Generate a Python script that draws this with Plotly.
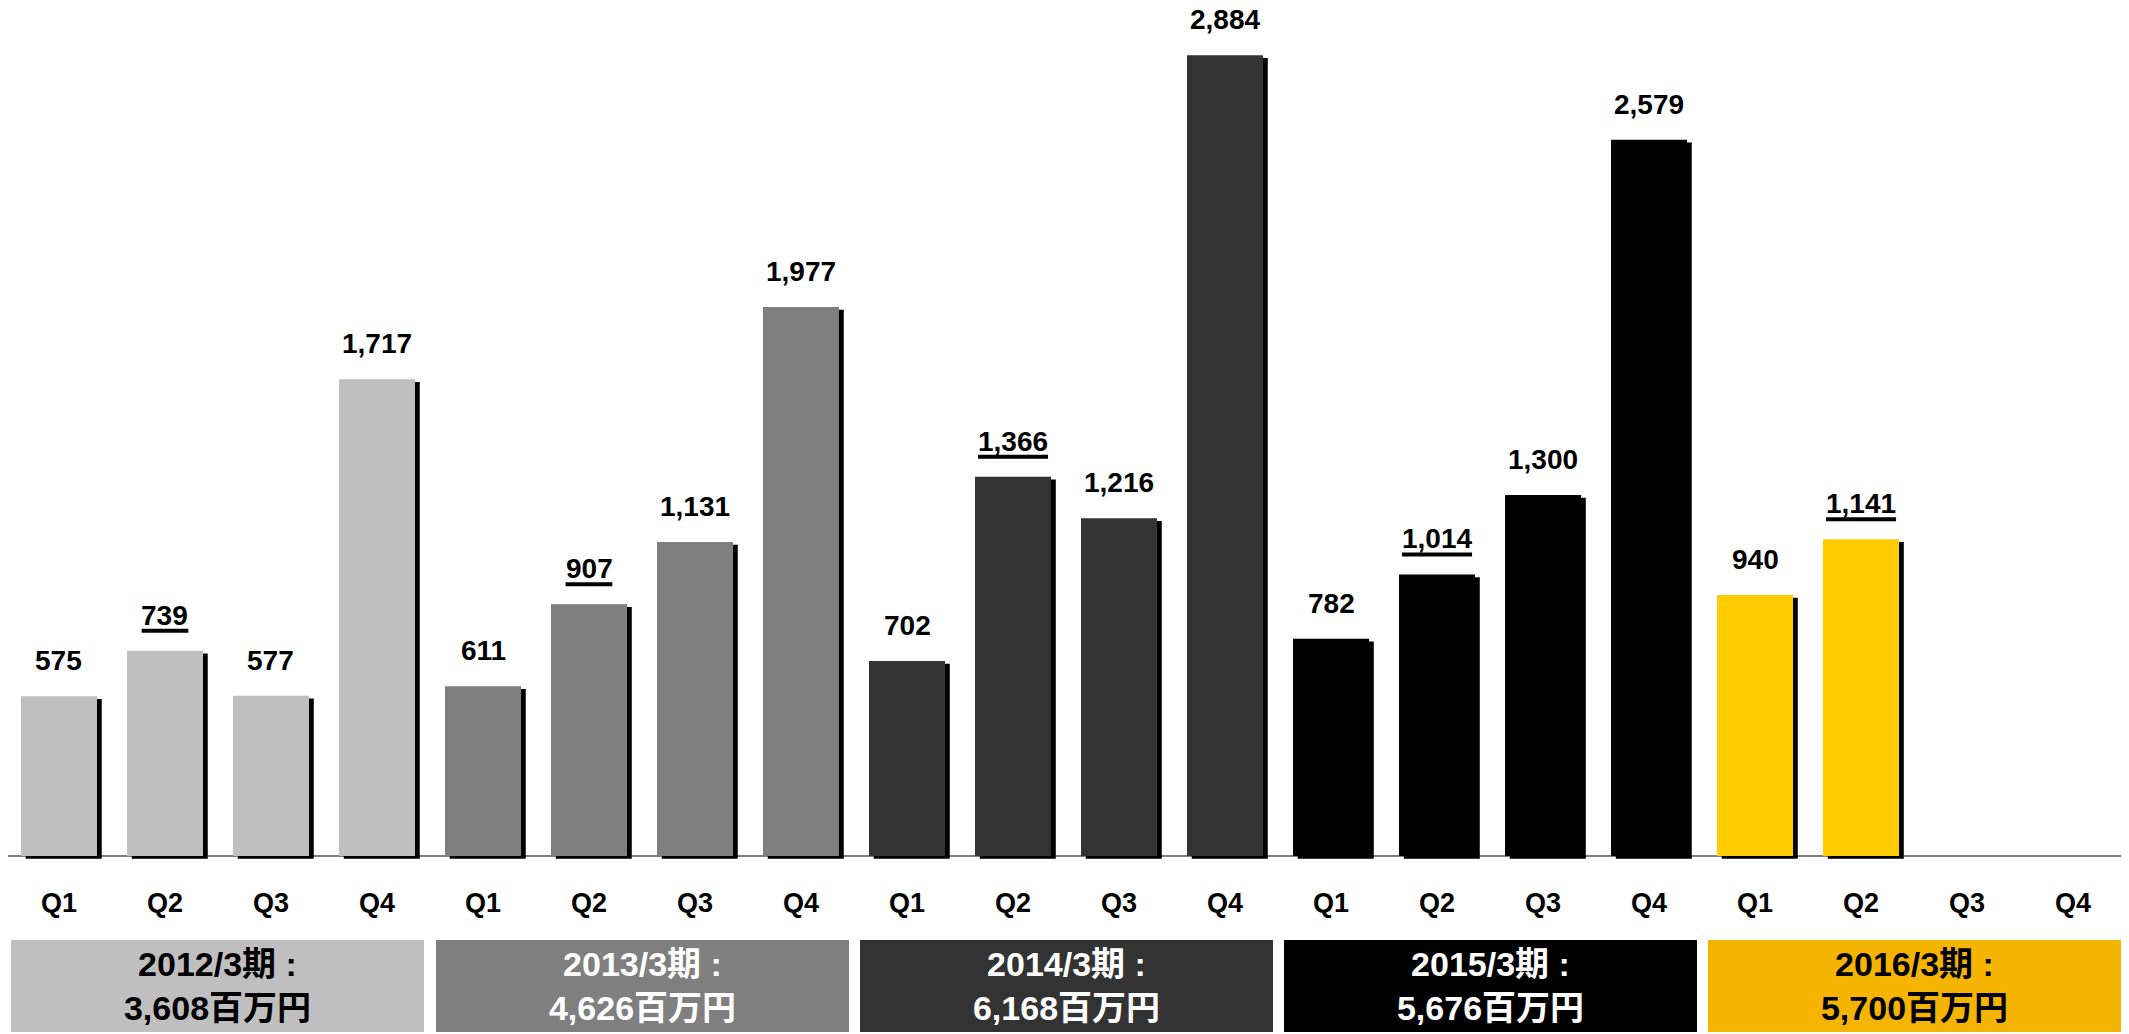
import plotly.graph_objects as go

# ---- data ----
quarters = ["Q1", "Q2", "Q3", "Q4"]
fiscal_years = ["2012/3期", "2013/3期", "2014/3期", "2015/3期", "2016/3期"]
annual_totals = ["3,608", "4,626", "6,168", "5,676", "5,700"]
fy2012 = [575, 739, 577, 1717]
fy2013 = [611, 907, 1131, 1977]
fy2014 = [702, 1366, 1216, 2884]
fy2015 = [782, 1014, 1300, 2579]
fy2016 = [940, 1141, None, None]
underlined_quarter = "Q2"

# ---- styles ----
bar_colors = ["#BFBFBF", "#7F7F7F", "#333333", "#000000", "#FFCC00"]
box_colors = ["#BFBFBF", "#7F7F7F", "#333333", "#000000", "#F5B400"]
box_text_colors = ["#000000", "#FFFFFF", "#FFFFFF", "#FFFFFF", "#000000"]
# page body has an 8px margin; figure sized so it ends at the window edge
W, H = 2121, 1026
ML, MR, MT, MB = 0, 0, 0, 164
BAR_W = 0.717
SHADOW_DX = 0.045
SHADOW_BASE = -10
FONT = "Liberation Sans, Arial, Noto Sans CJK JP, sans-serif"
VAL_SIZE = 28

series = [fy2012, fy2013, fy2014, fy2015, fy2016]
xs, ys, cols, qlabels = [], [], [], []
for gi, vals in enumerate(series):
    for qi, v in enumerate(vals):
        xs.append(gi * len(quarters) + qi)
        ys.append(v)
        cols.append(bar_colors[gi])
        qlabels.append(quarters[qi])

fig = go.Figure()
# drop shadow
fig.add_trace(go.Bar(
    x=xs, y=ys, base=SHADOW_BASE,
    width=BAR_W, offset=-BAR_W / 2 + SHADOW_DX,
    marker=dict(color="#000000", line=dict(width=0)), hoverinfo="skip", showlegend=False))
# bars
fig.add_trace(go.Bar(
    x=xs, y=ys, width=BAR_W, offset=-BAR_W / 2,
    marker=dict(color=cols, line=dict(width=0)), showlegend=False))

# value labels (Q2 labels underlined with a thick rule)
for x, v, q in zip(xs, ys, qlabels):
    if v is None:
        continue
    t = f"{v:,}"
    fig.add_annotation(x=x, y=v, xref="x", yref="y", text=f"<b>{t}</b>",
                       showarrow=False, yanchor="bottom", yshift=19, borderpad=0,
                       font=dict(family=FONT, size=VAL_SIZE, color="#000000"))
    if q == underlined_quarter:
        tw = VAL_SIZE * (0.556 * sum(c.isdigit() for c in t) + 0.278 * t.count(","))
        fig.add_shape(type="line", xref="x", yref="y",
                      xsizemode="pixel", xanchor=x, x0=-tw / 2, x1=tw / 2,
                      ysizemode="pixel", yanchor=v, y0=20, y1=20,
                      line=dict(color="#000000", width=4))

# fiscal-year boxes
n = len(quarters)
for gi, (fy, tot) in enumerate(zip(fiscal_years, annual_totals)):
    fig.add_annotation(
        x=gi * n + (n - 1) / 2, xref="x", y=-0.1346, yref="paper",
        yanchor="middle", xanchor="center", showarrow=False,
        text=f"<b>{fy} :<br>{tot}百万円</b>",
        width=413, height=92, bgcolor=box_colors[gi], borderpad=0, borderwidth=0,
        font=dict(family=FONT, size=34, color=box_text_colors[gi]))

fig.update_layout(
    width=W, height=H, margin=dict(l=ML, r=MR, t=MT, b=MB),
    paper_bgcolor="white", plot_bgcolor="white", barmode="overlay",
    xaxis=dict(range=[-0.481, 19.528], tickmode="array", tickvals=xs,
               ticktext=[f"<b>{q}</b>" for q in qlabels],
               showgrid=False, zeroline=False, showline=False, ticks="",
               ticklabelstandoff=14,
               tickfont=dict(family=FONT, size=27, color="#000000")),
    yaxis=dict(range=[-50.4, 3053.7], showgrid=False, showticklabels=False, ticks="",
               zeroline=True, zerolinecolor="#7F7F7F", zerolinewidth=2, showline=False),
)
fig.write_html("out.html")
